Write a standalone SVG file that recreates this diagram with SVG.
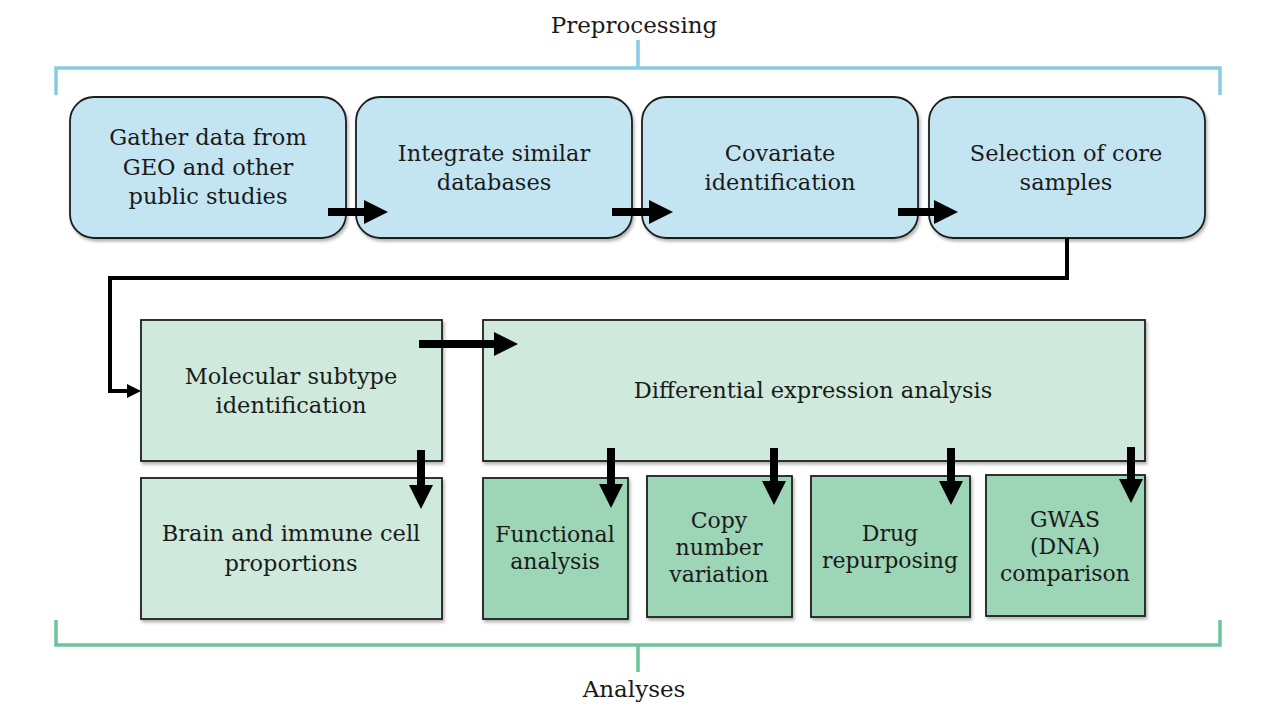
<svg xmlns="http://www.w3.org/2000/svg" width="1280" height="720" viewBox="0 0 1280 720">
  <style>
    text { font-family: "DejaVu Serif", "Liberation Serif", serif; font-size: 22.5px; fill: #1a1a1a; text-anchor: middle; }
    .pre { fill: #c3e5f2; stroke: #1e1e1e; stroke-width: 1.8; }
    .lg { fill: #cfeadc; stroke: #1e1e1e; stroke-width: 1.8; }
    .dg { fill: #9dd5b7; stroke: #1e1e1e; stroke-width: 1.8; }
    .thick { fill: none; stroke: #000; stroke-width: 8; }
    .thin { fill: none; stroke: #000; stroke-width: 4; }
    .brkB { fill: none; stroke: #86cde4; stroke-width: 3.5; }
    .brkG { fill: none; stroke: #6cc49a; stroke-width: 3.5; }
    .lbl { font-size: 23px; }
    .sm { font-size: 22px; }
  </style>
  <defs>
    <filter id="sh" x="-5%" y="-5%" width="112%" height="115%">
      <feDropShadow dx="1.5" dy="2.5" stdDeviation="1.5" flood-color="#000" flood-opacity="0.3"/>
    </filter>
    <marker id="ah" markerUnits="userSpaceOnUse" markerWidth="24" markerHeight="24" viewBox="0 0 24 24" refX="1" refY="12" orient="auto">
      <path d="M0,0 L24,12 L0,24 z" fill="#000"/>
    </marker>
    <marker id="ahs" markerUnits="userSpaceOnUse" markerWidth="14" markerHeight="14" viewBox="0 0 14 14" refX="1" refY="7" orient="auto">
      <path d="M0,0 L14,7 L0,14 z" fill="#000"/>
    </marker>
  </defs>

  <g id="preprocessing-bracket">
    <path class="brkB" d="M56,95 V68 H1220 V95 M638,68 V40"/>
    <text class="lbl" x="634" y="33">Preprocessing</text>
  </g>
  <g id="analyses-bracket">
    <path class="brkG" d="M56,620 V645 H1220 V620 M638,645 V672"/>
    <text class="lbl" x="634" y="697">Analyses</text>
  </g>

  <g id="gather">
    <rect class="pre" filter="url(#sh)" x="70" y="97" width="276" height="141" rx="24"/>
    <text x="208" y="145">Gather data from</text>
    <text x="208" y="175">GEO and other</text>
    <text x="208" y="204">public studies</text>
  </g>
  <g id="integrate">
    <rect class="pre" filter="url(#sh)" x="356" y="97" width="276" height="141" rx="24"/>
    <text x="494" y="161">Integrate similar</text>
    <text x="494" y="190">databases</text>
  </g>
  <g id="covariate">
    <rect class="pre" filter="url(#sh)" x="642" y="97" width="276" height="141" rx="24"/>
    <text x="780" y="161">Covariate</text>
    <text x="780" y="190">identification</text>
  </g>
  <g id="selection">
    <rect class="pre" filter="url(#sh)" x="929" y="97" width="276" height="141" rx="24"/>
    <text x="1066" y="161">Selection of core</text>
    <text x="1066" y="190">samples</text>
  </g>

  <g id="molecular">
    <rect class="lg" filter="url(#sh)" x="141" y="320" width="301" height="141"/>
    <text x="291" y="384">Molecular subtype</text>
    <text x="291" y="413">identification</text>
  </g>
  <g id="differential">
    <rect class="lg" filter="url(#sh)" x="483" y="320" width="662" height="141"/>
    <text x="813" y="398">Differential expression analysis</text>
  </g>
  <g id="brain">
    <rect class="lg" filter="url(#sh)" x="141" y="478" width="301" height="141"/>
    <text x="291" y="541">Brain and immune cell</text>
    <text x="291" y="571">proportions</text>
  </g>
  <g id="functional">
    <rect class="dg" filter="url(#sh)" x="483" y="478" width="145" height="141"/>
    <text class="sm" x="555" y="542">Functional</text>
    <text class="sm" x="555" y="569">analysis</text>
  </g>
  <g id="copy-number">
    <rect class="dg" filter="url(#sh)" x="647" y="476" width="145" height="141"/>
    <text class="sm" x="719" y="528">Copy</text>
    <text class="sm" x="719" y="555">number</text>
    <text class="sm" x="719" y="582">variation</text>
  </g>
  <g id="drug">
    <rect class="dg" filter="url(#sh)" x="811" y="476" width="159" height="141"/>
    <text class="sm" x="890" y="541">Drug</text>
    <text class="sm" x="890" y="568">repurposing</text>
  </g>
  <g id="gwas">
    <rect class="dg" filter="url(#sh)" x="986" y="475" width="159" height="141"/>
    <text class="sm" x="1065" y="527">GWAS</text>
    <text class="sm" x="1065" y="554">(DNA)</text>
    <text class="sm" x="1065" y="581">comparison</text>
  </g>

  <g id="connectors">
    <path class="thick" d="M328,212 H365" marker-end="url(#ah)"/>
    <path class="thick" d="M612,212 H650" marker-end="url(#ah)"/>
    <path class="thick" d="M898,212 H935" marker-end="url(#ah)"/>
    <path class="thin" d="M1067,238 V278 H110 V391 H128" marker-end="url(#ahs)"/>
    <path class="thick" d="M419,344 H495" marker-end="url(#ah)"/>
    <path class="thick" d="M421,450 V486" marker-end="url(#ah)"/>
    <path class="thick" d="M611,448 V485" marker-end="url(#ah)"/>
    <path class="thick" d="M774,448 V482" marker-end="url(#ah)"/>
    <path class="thick" d="M951,448 V482" marker-end="url(#ah)"/>
    <path class="thick" d="M1131,447 V480" marker-end="url(#ah)"/>
  </g>
</svg>
